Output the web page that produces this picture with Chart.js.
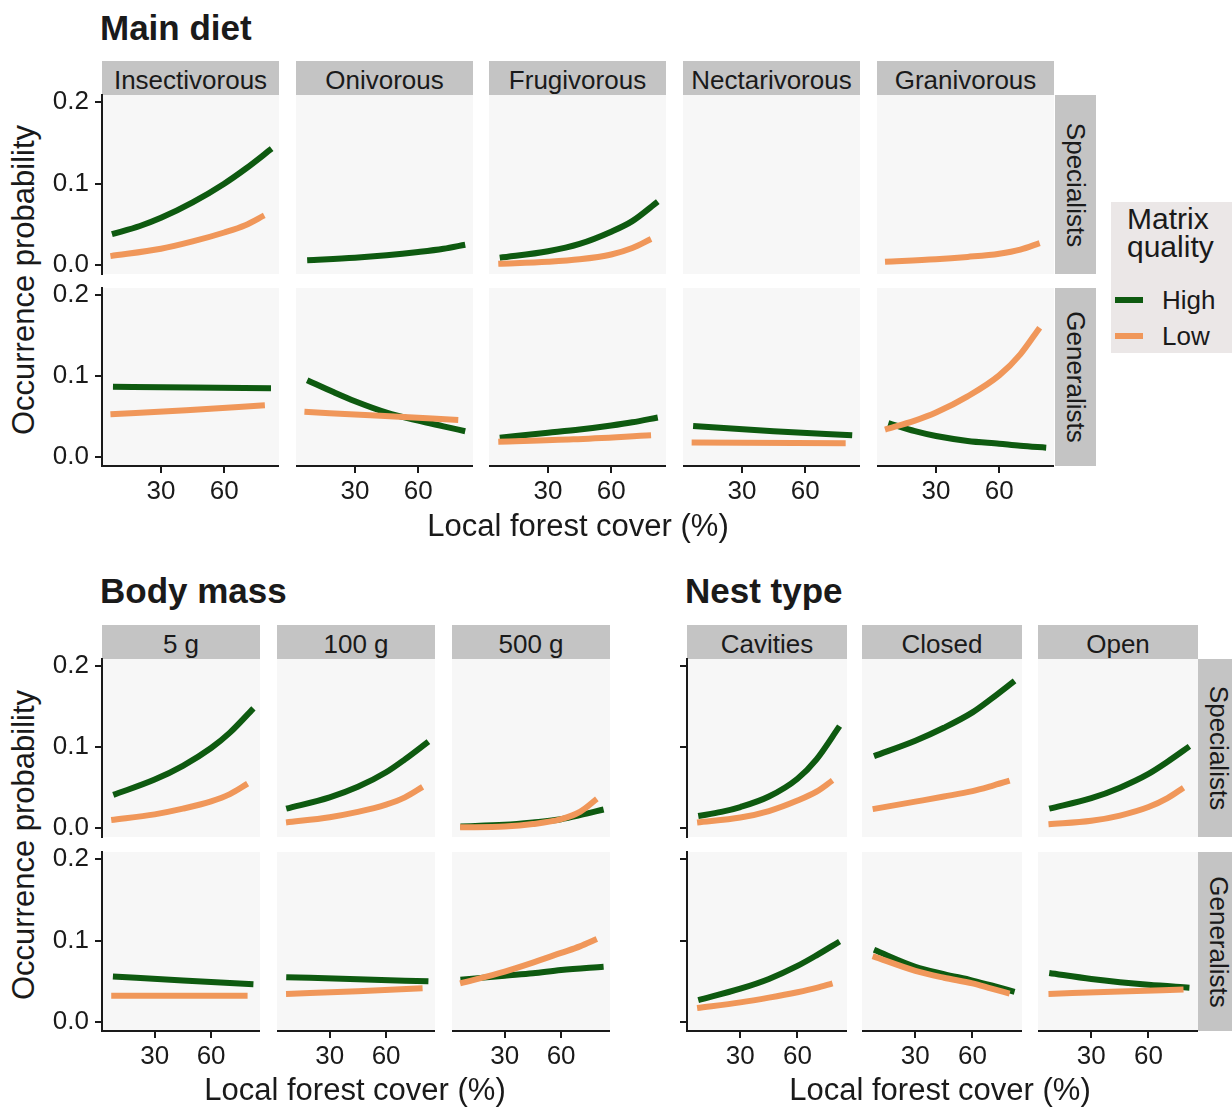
<!DOCTYPE html>
<html lang="en">
<head>
  <meta charset="UTF-8">
  <meta name="viewport" content="width=device-width, initial-scale=1.0">
  <title>Occurrence probability vs local forest cover</title>
  <script src="https://cdn.jsdelivr.net/npm/chart.js"></script>
  <style>
    body {
      margin: 0;
      background: #fff;
    }

    #figure {
      position: relative;
      width: 1232px;
      height: 1108px;
      overflow: hidden;
      background: #fff;
      font-family: "Liberation Sans", Arial, sans-serif;
      color: #1a1a1a;
    }

    .strip {
      position: absolute;
      background: #c4c4c4;
    }

    .label {
      position: absolute;
      white-space: nowrap;
    }

    .legend {
      position: absolute;
      background: #ebe7e7;
    }

    .key {
      position: absolute;
      height: 6px;
    }
  </style>
</head>
<body>
  <div id="figure"></div>

  <script>
    // Data
    const xTicks = [30, 60];
    const yTicks = [0, 0.1, 0.2];
    const guilds = ["Specialists", "Generalists"];
    const qualityLevels = ["High", "Low"];
    const qualityColors = ["#0e5a10", "#f0975a"];

    const dietCategories = ["Insectivorous", "Onivorous", "Frugivorous", "Nectarivorous", "Granivorous"];
    const massCategories = ["5 g", "100 g", "500 g"];
    const nestCategories = ["Cavities", "Closed", "Open"];

    // [forest cover %, occurrence probability] per category
    const dietSpecialistsHigh = [
      [[6.7, 0.038], [20, 0.048], [30, 0.058], [45, 0.077], [60, 0.100], [70, 0.118], [82.5, 0.143]],
      [[7.3, 0.006], [30, 0.009], [45, 0.012], [60, 0.016], [72, 0.020], [82.3, 0.025]],
      [[7.1, 0.009], [30, 0.017], [45, 0.026], [60, 0.041], [70, 0.054], [82.1, 0.078]],
      [],
      [],
    ];
    const dietSpecialistsLow = [
      [[6, 0.011], [30, 0.020], [45, 0.029], [60, 0.040], [70, 0.049], [79, 0.061]],
      [],
      [[6.4, 0.0015], [30, 0.004], [45, 0.007], [60, 0.013], [70, 0.021], [78.9, 0.032]],
      [],
      [[5.8, 0.004], [30, 0.007], [45, 0.010], [60, 0.014], [70, 0.019], [79.2, 0.027]],
    ];
    const dietGeneralistsHigh = [
      [[7.2, 0.087], [45, 0.086], [82.2, 0.085]],
      [[7.3, 0.095], [20, 0.080], [30, 0.069], [45, 0.055], [60, 0.045], [72, 0.038], [82.3, 0.032]],
      [[7.1, 0.024], [30, 0.030], [45, 0.034], [60, 0.039], [70, 0.043], [82.1, 0.049]],
      [[6.8, 0.0385], [45, 0.032], [82.3, 0.027]],
      [[7.4, 0.042], [20, 0.032], [30, 0.026], [45, 0.020], [60, 0.0165], [70, 0.014], [82.3, 0.0117]],
    ];
    const dietGeneralistsLow = [
      [[6, 0.053], [42, 0.058], [79.3, 0.064]],
      [[6, 0.056], [42, 0.051], [79, 0.046]],
      [[6.4, 0.019], [42, 0.022], [78.9, 0.027]],
      [[6.1, 0.018], [79.2, 0.017]],
      [[5.8, 0.034], [20, 0.045], [30, 0.055], [45, 0.075], [60, 0.101], [70, 0.127], [79.2, 0.160]],
    ];

    const massSpecialistsHigh = [
      [[8, 0.041], [30, 0.060], [45, 0.077], [60, 0.099], [70, 0.118], [82.5, 0.148]],
      [[6.9, 0.024], [30, 0.038], [45, 0.051], [60, 0.069], [70, 0.085], [82.5, 0.107]],
      [[6.5, 0.002], [30, 0.004], [45, 0.007], [60, 0.011], [70, 0.016], [82.6, 0.023]],
    ];
    const massSpecialistsLow = [
      [[6.9, 0.010], [30, 0.017], [45, 0.024], [60, 0.033], [70, 0.042], [79.4, 0.055]],
      [[6.8, 0.007], [30, 0.0135], [45, 0.020], [60, 0.029], [70, 0.038], [79.4, 0.051]],
      [[6.3, 0.001], [30, 0.002], [45, 0.005], [60, 0.011], [70, 0.020], [79, 0.036]],
    ];
    const massGeneralistsHigh = [
      [[7.8, 0.056], [45, 0.051], [82.5, 0.0466]],
      [[6.9, 0.0552], [45, 0.0525], [82.5, 0.050]],
      [[6.5, 0.052], [30, 0.057], [45, 0.060], [60, 0.064], [82.6, 0.068]],
    ];
    const massGeneralistsLow = [
      [[6.9, 0.0324], [79.4, 0.0324]],
      [[6.8, 0.0346], [45, 0.038], [79.4, 0.0415]],
      [[6.3, 0.0475], [30, 0.062], [45, 0.073], [60, 0.085], [70, 0.093], [79, 0.102]],
    ];

    const nestSpecialistsHigh = [
      [[7.9, 0.015], [20, 0.020], [30, 0.026], [45, 0.039], [60, 0.061], [70, 0.085], [82.1, 0.126]],
      [[8.3, 0.089], [30, 0.108], [45, 0.124], [60, 0.143], [70, 0.160], [82.1, 0.182]],
      [[7.9, 0.024], [30, 0.037], [45, 0.050], [60, 0.067], [70, 0.082], [81.5, 0.101]],
    ];
    const nestSpecialistsLow = [
      [[7.3, 0.007], [30, 0.013], [45, 0.021], [60, 0.034], [70, 0.045], [78.4, 0.059]],
      [[7.6, 0.0234], [30, 0.0327], [45, 0.039], [60, 0.0457], [70, 0.052], [79.5, 0.0586]],
      [[7.5, 0.0047], [30, 0.009], [45, 0.0155], [60, 0.026], [70, 0.037], [78.4, 0.050]],
    ];
    const nestGeneralistsHigh = [
      [[7.9, 0.027], [30, 0.041], [45, 0.053], [60, 0.069], [70, 0.082], [82.1, 0.099]],
      [[8.3, 0.0888], [30, 0.068], [45, 0.059], [60, 0.051], [70, 0.045], [82.1, 0.0372]],
      [[7.9, 0.0604], [30, 0.053], [45, 0.049], [60, 0.0458], [81.5, 0.0423]],
    ];
    const nestGeneralistsLow = [
      [[7.3, 0.0173], [30, 0.0242], [45, 0.030], [60, 0.0367], [70, 0.042], [78.4, 0.0475]],
      [[7.6, 0.0811], [30, 0.063], [45, 0.0545], [60, 0.0475], [70, 0.041], [79.5, 0.035]],
      [[7.5, 0.0346], [45, 0.0375], [78.4, 0.040]],
    ];

    // Layout
    const X_RANGE = [2, 86];
    const Y_RANGE = [-0.011, 0.209];
    const AXIS_LEFT = 60;
    const AXIS_BOTTOM = 46;
    const EDGE = 14; // room above / below a panel for the outer tick labels
    const FONT = "'Liberation Sans', Arial, sans-serif";
    const INK = "#1a1a1a";

    const sections = [
      {
        title: "Main diet", titleX: 100, titleY: 27,
        categories: dietCategories,
        lefts: [102, 296, 489, 683, 877], width: 177,
        stripTop: 61, rows: [[95, 179], [288, 178]],
        rightStrip: 1055, yLabels: true,
        high: [dietSpecialistsHigh, dietGeneralistsHigh],
        low: [dietSpecialistsLow, dietGeneralistsLow],
        xTitle: [578, 525], yTitle: [23, 280],
      },
      {
        title: "Body mass", titleX: 100, titleY: 590,
        categories: massCategories,
        lefts: [102, 277, 452], width: 158,
        stripTop: 625, rows: [[659, 178], [852, 179]],
        rightStrip: null, yLabels: true,
        high: [massSpecialistsHigh, massGeneralistsHigh],
        low: [massSpecialistsLow, massGeneralistsLow],
        xTitle: [355, 1089], yTitle: [23, 845],
      },
      {
        title: "Nest type", titleX: 685, titleY: 590,
        categories: nestCategories,
        lefts: [687, 862, 1038], width: 160,
        stripTop: 625, rows: [[659, 178], [852, 179]],
        rightStrip: 1198, yLabels: false,
        high: [nestSpecialistsHigh, nestGeneralistsHigh],
        low: [nestSpecialistsLow, nestGeneralistsLow],
        xTitle: [940, 1089], yTitle: null,
      },
    ];

    const fig = document.getElementById("figure");

    // Helper Functions
    const addText = (str, x, y, size, opts = {}) => {
      const el = document.createElement("div");
      el.className = "label";
      el.textContent = str;
      el.style.fontSize = size + "px";
      el.style.lineHeight = size + "px";
      el.style.left = x + "px";
      el.style.top = y + "px";
      if (opts.bold) el.style.fontWeight = "bold";
      if (opts.anchor === "left") {
        el.style.transform = "translateY(-50%)";
      } else {
        el.style.transform = `translate(-50%, -50%) rotate(${opts.rotate || 0}deg)`;
      }
      fig.appendChild(el);
      return el;
    };

    const addBox = (className, left, top, width, height, color) => {
      const el = document.createElement("div");
      el.className = className;
      el.style.left = left + "px";
      el.style.top = top + "px";
      el.style.width = width + "px";
      el.style.height = height + "px";
      if (color) el.style.background = color;
      fig.appendChild(el);
      return el;
    };

    const panelBackground = {
      id: "panelBackground",
      beforeDraw(chart) {
        const { ctx, chartArea: a } = chart;
        ctx.save();
        ctx.fillStyle = "#f7f7f7";
        ctx.fillRect(a.left, a.top, a.right - a.left, a.bottom - a.top);
        ctx.restore();
      },
    };

    const fitAxis = (scale, width, height) => {
      if (width != null) scale.width = width;
      if (height != null) scale.height = height;
      scale.paddingLeft = scale.paddingRight = scale.paddingTop = scale.paddingBottom = 0;
    };

    const toPoints = (pts) => pts.map(([x, y]) => ({ x, y }));

    const axisGrid = { display: true, drawOnChartArea: false, drawTicks: true, tickLength: 7, color: INK, lineWidth: 2 };
    const axisBorder = { display: true, color: INK, width: 2 };
    const tickFont = { family: FONT, size: 26, lineHeight: 1 };

    const drawPanel = ({ left, top, width, height, showY, yLabels, showX, high, low }) => {
      const offL = showY ? AXIS_LEFT : 0;
      const padBottom = showX ? 0 : EDGE;
      const cw = width + offL;
      const ch = EDGE + height + (showX ? AXIS_BOTTOM : padBottom);
      const canvas = document.createElement("canvas");
      canvas.width = cw;
      canvas.height = ch;
      canvas.style.position = "absolute";
      canvas.style.left = (left - offL) + "px";
      canvas.style.top = (top - EDGE) + "px";
      canvas.style.width = cw + "px";
      canvas.style.height = ch + "px";
      fig.appendChild(canvas);

      new Chart(canvas, {
        type: "line",
        data: {
          datasets: [
            { label: qualityLevels[1], data: toPoints(low), borderColor: qualityColors[1], order: 0 },
            { label: qualityLevels[0], data: toPoints(high), borderColor: qualityColors[0], order: 1 },
          ],
        },
        options: {
          responsive: false,
          animation: false,
          devicePixelRatio: 1,
          layout: { padding: { top: EDGE, bottom: padBottom, left: 0, right: 0 }, autoPadding: false },
          plugins: { legend: { display: false }, tooltip: { enabled: false } },
          elements: {
            point: { radius: 0 },
            line: { borderWidth: 6, borderCapStyle: "butt", cubicInterpolationMode: "monotone" },
          },
          scales: {
            x: {
              type: "linear",
              min: X_RANGE[0],
              max: X_RANGE[1],
              bounds: "data",
              display: showX,
              afterBuildTicks: (s) => { s.ticks = xTicks.map((v) => ({ value: v })); },
              afterFit: (s) => { if (showX) fitAxis(s, null, AXIS_BOTTOM); },
              grid: axisGrid,
              border: axisBorder,
              ticks: { color: INK, padding: 6, maxRotation: 0, font: tickFont },
            },
            y: {
              type: "linear",
              min: Y_RANGE[0],
              max: Y_RANGE[1],
              bounds: "data",
              display: showY,
              afterBuildTicks: (s) => { s.ticks = yTicks.map((v) => ({ value: v })); },
              afterFit: (s) => { if (showY) fitAxis(s, AXIS_LEFT, null); },
              grid: axisGrid,
              border: axisBorder,
              ticks: {
                color: yLabels ? INK : "rgba(0,0,0,0)",
                padding: 6,
                font: tickFont,
                callback: (v) => Number(v).toFixed(1),
              },
            },
          },
        },
        plugins: [panelBackground],
      });
    };

    // Build figure
    sections.forEach((sec) => {
      addText(sec.title, sec.titleX, sec.titleY, 35, { anchor: "left", bold: true });

      sec.categories.forEach((cat, c) => {
        addBox("strip", sec.lefts[c], sec.stripTop, sec.width, 34);
        addText(cat, sec.lefts[c] + sec.width / 2, sec.stripTop + 19, 26);
      });

      guilds.forEach((guild, r) => {
        const [top, height] = sec.rows[r];
        const lastRow = r === guilds.length - 1;
        sec.categories.forEach((cat, c) => {
          drawPanel({
            left: sec.lefts[c],
            top,
            width: sec.width,
            height,
            showY: c === 0,
            yLabels: sec.yLabels,
            showX: lastRow,
            high: sec.high[r][c],
            low: sec.low[r][c],
          });
        });
        if (sec.rightStrip != null) {
          addBox("strip", sec.rightStrip, top, 41, height);
          addText(guild, sec.rightStrip + 20.5, top + height / 2, 26, { rotate: 90 });
        }
      });

      addText("Local forest cover (%)", sec.xTitle[0], sec.xTitle[1], 31);
      if (sec.yTitle) addText("Occurrence probability", sec.yTitle[0], sec.yTitle[1], 31, { rotate: -90 });
    });

    // Legend
    addBox("legend", 1111, 202, 125, 151);
    addText("Matrix", 1127, 219, 30, { anchor: "left" });
    addText("quality", 1127, 247, 30, { anchor: "left" });
    qualityLevels.forEach((level, i) => {
      const cy = i === 0 ? 300 : 335.5;
      addBox("key", 1115, cy - 3, 28, 6, qualityColors[i]);
      addText(level, 1162, cy, 26, { anchor: "left" });
    });
  </script>
</body>
</html>
